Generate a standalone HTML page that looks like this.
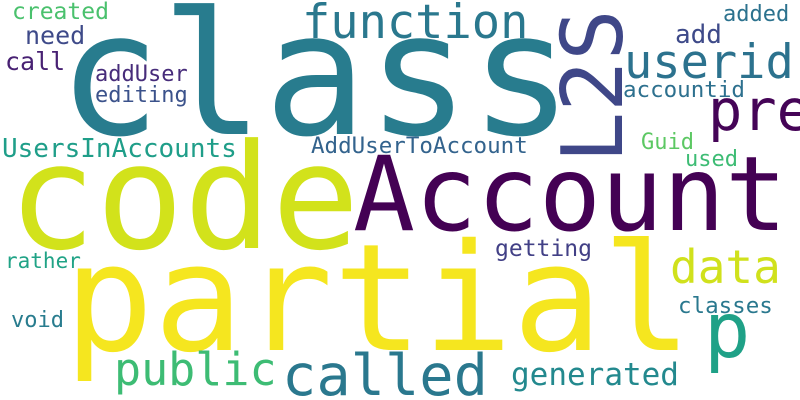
<!DOCTYPE html>
<html><head><meta charset="utf-8"><style>
html,body{margin:0;padding:0;background:#fff;}
svg{display:block;}
text{font-family:"DejaVu Sans Mono","Liberation Mono",monospace;}
</style></head><body>
<svg width="800" height="400" viewBox="0 0 800 400" xmlns="http://www.w3.org/2000/svg">
<rect width="800" height="400" fill="#fff"/>
<text x="58" y="134" font-size="171" fill="#287c8e">class</text>
<text x="302" y="38" font-size="47" fill="#2a788e">function</text>
<text x="12" y="19" font-size="23" fill="#4ac16d">created</text>
<text x="25" y="44" font-size="25" fill="#3e4a89">need</text>
<text x="5" y="70" font-size="25" fill="#482173">call</text>
<text x="95" y="81" font-size="22" fill="#472c7a">addUser</text>
<text x="95" y="102" font-size="22" fill="#3b528b">editing</text>
<text x="2" y="157" font-size="26" fill="#1f9e89">UsersInAccounts</text>
<text x="311" y="153" font-size="22.5" fill="#33638d">AddUserToAccount</text>
<text transform="translate(622,163) rotate(-90)" font-size="85" fill="#3f4788">L2S</text>
<text x="624" y="78" font-size="47" fill="#2c728e">userid</text>
<text x="623" y="97" font-size="22.5" fill="#2d708e">accountid</text>
<text x="708" y="130" font-size="57" fill="#450457">pre</text>
<text x="675" y="43" font-size="26" fill="#3e4a89">add</text>
<text x="723" y="21" font-size="22" fill="#2c728e">added</text>
<text x="641" y="149" font-size="22" fill="#5cc863">Guid</text>
<text x="685" y="166" font-size="22" fill="#3dbc74">used</text>
<text x="353" y="230" font-size="103" fill="#440154">Account</text>
<text x="8" y="248" font-size="146" fill="#d2e21b">code</text>
<text x="64" y="350" font-size="149" fill="#f5e61f">partial</text>
<text x="114" y="385" font-size="45" fill="#3dbc74">public</text>
<text x="282" y="395" font-size="57" fill="#2a788e">called</text>
<text x="5" y="268" font-size="21" fill="#20a386">rather</text>
<text x="11" y="327" font-size="22" fill="#287c8e">void</text>
<text x="495" y="256" font-size="23" fill="#424086">getting</text>
<text x="670" y="283" font-size="46" fill="#d0e11c">data</text>
<text x="678" y="313" font-size="22.5" fill="#2a788e">classes</text>
<text x="704" y="357" font-size="77" fill="#1fa187">p</text>
<text x="511" y="385" font-size="31" fill="#23898e">generated</text>
</svg>
</body></html>
